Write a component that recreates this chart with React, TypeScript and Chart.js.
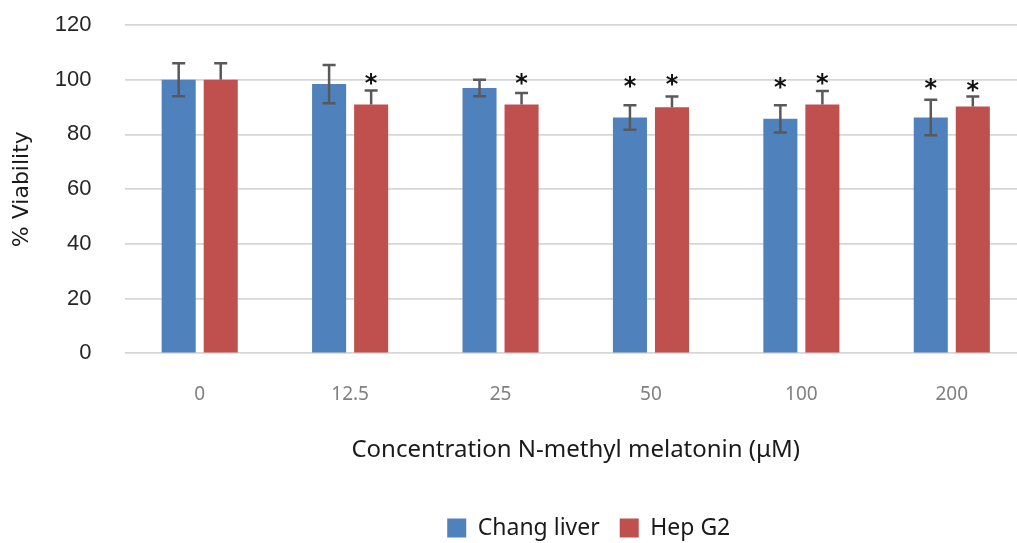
import React, { useEffect, useRef } from "react";
import { Chart, registerables } from "chart.js";

Chart.register(...registerables);

const categories = ["0", "12.5", "25", "50", "100", "200"];
const changLiver = [100, 98.4, 97.0, 86.2, 85.7, 86.2];
const hepG2 = [100, 90.9, 90.9, 89.9, 90.9, 90.2];
const changErr = [6, 7, 3, 4.5, 5, 6.5];
const hepErr = [6, 5.2, 4.2, 4, 5, 3.7];
const changStar = [null, null, null, 99.4, 99.0, 98.8];
const hepStar = [null, 100.7, 100.6, 100.3, 100.6, 98.2];
const yTicks = [0, 20, 40, 60, 80, 100, 120];

const errorModes = ["both", "plus"];
const errors = [changErr, hepErr];
const stars = [changStar, hepStar];

const errorBarPlugin = {
  id: "errorBars",
  afterLayout(chart: any) {
    const lg = chart.legend;
    if (lg) {
      lg.left += 13;
      lg.right += 13;
    }
  },
  afterDatasetsDraw(chart: any) {
    const ctx = chart.ctx;
    const y = chart.scales.y;
    ctx.save();
    ctx.strokeStyle = "#595959";
    ctx.lineWidth = 2.5;
    chart.data.datasets.forEach((ds: any, di: number) => {
      const meta = chart.getDatasetMeta(di);
      meta.data.forEach((bar: any, i: number) => {
        const v = ds.data[i];
        const e = errors[di][i];
        const yTop = y.getPixelForValue(v + e);
        const yBot = errorModes[di] === "both" ? y.getPixelForValue(v - e) : y.getPixelForValue(v);
        const x = bar.x;
        const cap = 6.5;
        ctx.beginPath();
        ctx.moveTo(x, yTop);
        ctx.lineTo(x, yBot);
        ctx.moveTo(x - cap, yTop);
        ctx.lineTo(x + cap, yTop);
        if (errorModes[di] === "both") {
          ctx.moveTo(x - cap, yBot);
          ctx.lineTo(x + cap, yBot);
        }
        ctx.stroke();
      });
    });
    ctx.fillStyle = "#111";
    ctx.font = "bold 24px 'DejaVu Sans'";
    ctx.textAlign = "center";
    ctx.textBaseline = "alphabetic";
    chart.data.datasets.forEach((ds: any, di: number) => {
      const meta = chart.getDatasetMeta(di);
      meta.data.forEach((bar: any, i: number) => {
        const s = stars[di][i];
        if (s == null) return;
        ctx.fillText("*", bar.x, y.getPixelForValue(s) + 13);
      });
    });
    ctx.restore();
  },
};

export default function App() {
  const ref = useRef<HTMLCanvasElement>(null);
  useEffect(() => {
    if (!ref.current) return;
    const chart = new Chart(ref.current, {
      type: "bar",
      data: {
        labels: categories,
        datasets: [
          {
            label: "Chang liver",
            data: changLiver,
            backgroundColor: "#4F81BD",
            categoryPercentage: 0.559,
            barPercentage: 0.81,
          },
          {
            label: "Hep G2",
            data: hepG2,
            backgroundColor: "#C0504D",
            categoryPercentage: 0.559,
            barPercentage: 0.81,
          },
        ],
      },
      options: {
        responsive: false,
        animation: false,
        layout: { padding: { top: 25, bottom: 0.5, left: 0, right: 0 } },
        plugins: {
          tooltip: { enabled: false },
          legend: {
            position: "bottom",
            fullSize: false,
            labels: {
              boxWidth: 19,
              boxHeight: 19,
              padding: 20,
              color: "#1a1a1a",
              font: { family: "'Noto Sans'", size: 23 },
            },
          },
        },
        scales: {
          x: {
            grid: { display: false, drawTicks: false },
            border: { display: false },
            ticks: {
              padding: 30,
              color: "#808080",
              font: { family: "'Noto Sans'", size: 19 },
            },
            title: {
              display: true,
              text: "Concentration N-methyl melatonin (\u03bcM)",
              color: "#1a1a1a",
              font: { family: "'Noto Sans'", size: 24 },
              padding: { top: 0, bottom: 32 },
            },
            afterFit(scale: any) {
              scale.height = 143.2;
            },
          },
          y: {
            min: 0,
            max: 120,
            afterBuildTicks(scale: any) {
              scale.ticks = yTicks.map((v) => ({ value: v }));
            },
            grid: {
              color: "#d6d6d6",
              lineWidth: 1.8,
              drawTicks: true,
              tickLength: 31,
              tickColor: "rgba(0,0,0,0)",
            },
            border: { display: false },
            ticks: {
              padding: 2,
              color: "#262626",
              font: { family: "'Liberation Sans'", size: 22 },
            },
            title: {
              display: true,
              text: "% Viability",
              color: "#1a1a1a",
              font: { family: "'DejaVu Sans'", size: 22 },
              padding: { top: 9, bottom: 0 },
            },
            afterFit(scale: any) {
              scale.width = 124.5;
            },
          },
        },
      },
      plugins: [errorBarPlugin],
    });
    return () => chart.destroy();
  }, []);
  return (
    <div
      style={{
        position: "absolute",
        left: 0,
        top: 0,
        width: 1017,
        height: 543,
        overflow: "hidden",
        background: "#fff",
      }}
    >
      <canvas ref={ref} width={1027} height={550} style={{ display: "block" }} />
    </div>
  );
}
